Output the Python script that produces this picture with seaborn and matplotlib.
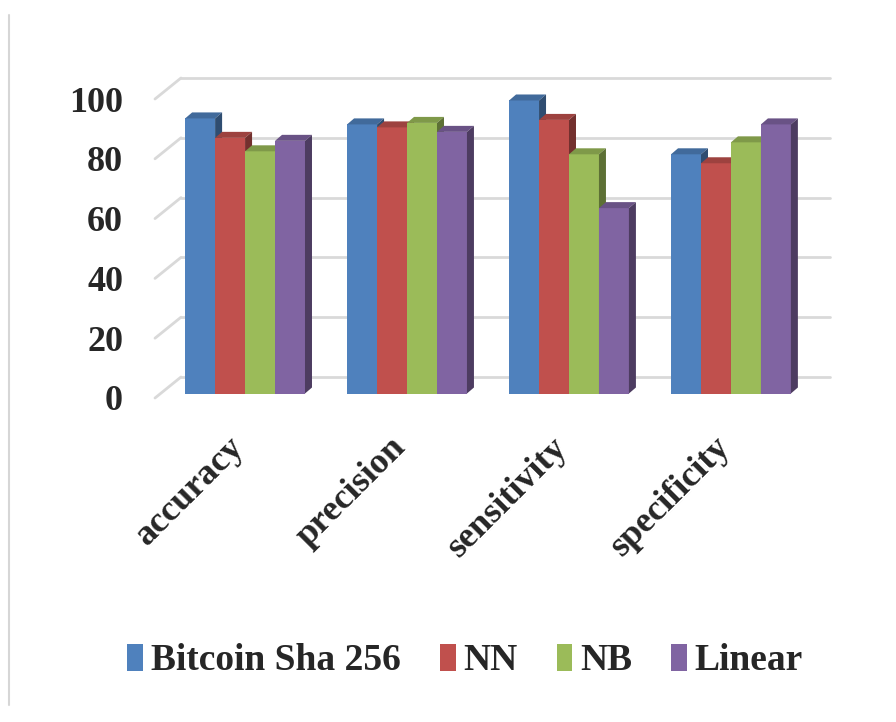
import matplotlib
matplotlib.use("Agg")
import matplotlib.pyplot as plt
import matplotlib.colors as mcolors
from matplotlib.transforms import Affine2D, IdentityTransform
from matplotlib.patches import Polygon
from matplotlib.lines import Line2D
import numpy as np
import pandas as pd
import seaborn as sns

# ---- data ---------------------------------------------------------------
metrics = ["accuracy", "precision", "sensitivity", "specificity"]
methods = ["Bitcoin Sha 256", "NN", "NB", "Linear"]
bitcoin_sha256 = [92, 90, 98, 80]
nn_scores = [85.5, 89, 91.5, 77]
nb_scores = [81, 90.5, 80, 84]
linear_scores = [84.5, 87.5, 62, 90]
y_ticks = [0, 20, 40, 60, 80, 100]
palette = ["#4F81BD", "#C0504D", "#9BBB59", "#8064A2"]

df = pd.DataFrame({
    "metric": metrics * 4,
    "method": np.repeat(methods, len(metrics)),
    "score": bitcoin_sha256 + nn_scores + nb_scores + linear_scores,
})

# ---- style --------------------------------------------------------------
sns.set_theme(style="white")
plt.rcParams["font.family"] = ["Liberation Serif", "DejaVu Serif"]
plt.rcParams["font.weight"] = "bold"

DPI = 100
W, H = 896, 722
fig = plt.figure(figsize=(W / DPI, H / DPI), dpi=DPI)
fig.patch.set_facecolor("white")

# axes = front edge of the floor; everything else is pushed back in depth
ax = fig.add_axes([155 / W, (H - 398) / H, (804 - 155) / W, 299 / H])
ax.set_facecolor("none")

sns.barplot(data=df, x="metric", y="score", hue="method",
            order=metrics, hue_order=methods, palette=palette,
            width=0.74, saturation=1, linewidth=0, ax=ax)

XMIN, XMAX = -0.519, 3.488
ax.set_xlim(XMIN, XMAX)
ax.set_ylim(0, 100)
ax.set_autoscale_on(False)

BAR_SHIFT = (6.0, 4.5)    # bar front face relative to floor front edge (px)
DEPTH = (7.0, 6.0)        # depth of each column (px)
WALL = (26.0, 21.0)       # back wall relative to floor front edge (px)


def shade(color, f):
    r, g, b = mcolors.to_rgb(color)
    return (r * f, g * f, b * f)


# back-wall gridlines and the diagonal side-wall lines
grid_col = "#D9D9D9"
wall_tr = ax.transData + Affine2D().translate(*WALL)
for v in y_ticks:
    ax.plot([XMIN, XMAX], [v, v], transform=wall_tr, color=grid_col,
            lw=2.0, clip_on=False, zorder=1)
    p = ax.transData.transform((XMIN, v))
    ax.add_artist(Line2D([p[0], p[0] + WALL[0]], [p[1], p[1] + WALL[1]],
                         transform=IdentityTransform(), color=grid_col,
                         lw=2.0, clip_on=False, zorder=1))

# turn the flat bars into 3-D columns
bar_tr = ax.transData + Affine2D().translate(*BAR_SHIFT)
for j, cont in enumerate(ax.containers):
    base = palette[j]
    for patch in cont.patches:
        patch.set_transform(bar_tr)
        patch.set_clip_on(False)
        patch.set_zorder(10 + j)
        x, w, h = patch.get_x(), patch.get_width(), patch.get_height()
        x0, y0 = bar_tr.transform((x, 0))
        x1, y1 = bar_tr.transform((x + w, h))
        dx, dy = DEPTH
        top = Polygon([(x0, y1), (x1, y1), (x1 + dx, y1 + dy), (x0 + dx, y1 + dy)],
                      closed=True, facecolor=shade(base, 0.82), edgecolor="none",
                      transform=IdentityTransform(), clip_on=False, zorder=10 + j)
        side = Polygon([(x1, y0), (x1 + dx, y0 + dy), (x1 + dx, y1 + dy), (x1, y1)],
                       closed=True, facecolor=shade(base, 0.6), edgecolor="none",
                       transform=IdentityTransform(), clip_on=False, zorder=10 + j)
        ax.add_artist(top)
        ax.add_artist(side)

# axes decoration
for s in ax.spines.values():
    s.set_visible(False)
ax.set_xlabel("")
ax.set_ylabel("")
ax.set_yticks(y_ticks)
ax.set_yticklabels([str(t) for t in y_ticks], fontsize=26, fontweight="bold")
ax.tick_params(axis="y", length=0, pad=23)
ax.set_xticks(range(len(metrics)))
ax.set_xticklabels(metrics, fontsize=26, fontweight="bold", rotation=45,
                   ha="right", va="center", rotation_mode="anchor")
ax.tick_params(axis="x", length=0, pad=32)
ax.grid(False)

# legend along the bottom
leg = ax.get_legend()
handles = leg.legend_handles
labels = [t.get_text() for t in leg.get_texts()]
leg.remove()
fig.legend(handles, labels, loc="center", bbox_to_anchor=(465 / W, (H - 661) / H),
           ncol=4, frameon=False,
           prop={"family": "Liberation Serif", "weight": "bold", "size": 27},
           handlelength=0.42, handleheight=0.7, handletextpad=0.2,
           columnspacing=1.05, borderaxespad=0)

# thin border line at the left edge
fig.add_artist(Line2D([9 / W, 9 / W], [(H - 15) / H, (H - 705) / H],
                      transform=fig.transFigure, color="#D6D6D6", lw=1.5))

fig.savefig("out.png", dpi=DPI, facecolor="white")
